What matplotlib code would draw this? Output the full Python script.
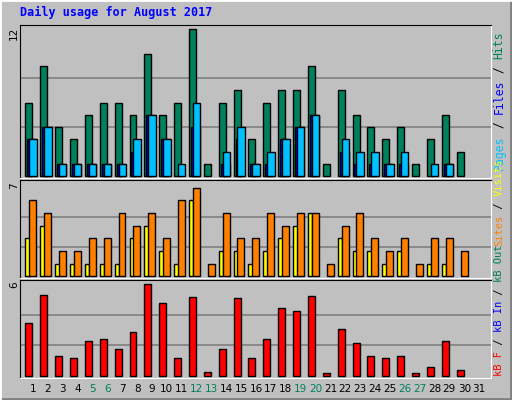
import matplotlib
matplotlib.use("Agg")
import matplotlib.pyplot as plt
import numpy as np

days = list(range(1, 32))
hits = [6, 9, 4, 3, 5, 6, 6, 5, 10, 5, 6, 12, 1, 6, 7, 3, 6, 7, 7, 9, 1, 7, 5, 4, 3, 4, 1, 3, 5, 2, 0]
files = [3, 4, 1, 1, 1, 1, 1, 2, 5, 3, 0, 4, 0, 1, 3, 1, 1, 3, 4, 5, 0, 2, 1, 1, 1, 1, 0, 0, 1, 0, 0]
pages = [3, 4, 1, 1, 1, 1, 1, 3, 5, 3, 1, 6, 0, 2, 4, 1, 2, 3, 4, 5, 0, 3, 2, 2, 1, 2, 0, 1, 1, 0, 0]
visits = [3, 4, 1, 1, 1, 1, 1, 3, 4, 2, 1, 6, 0, 2, 2, 1, 2, 3, 4, 5, 0, 3, 2, 2, 1, 2, 0, 1, 1, 0, 0]
sites = [6, 5, 2, 2, 3, 3, 5, 4, 5, 3, 6, 7, 1, 5, 3, 3, 5, 4, 5, 5, 1, 4, 5, 3, 2, 3, 1, 3, 3, 2, 0]
kbytes = [3.48, 5.3, 1.34, 1.16, 2.26, 2.45, 1.75, 2.85, 6.0, 4.75, 1.16, 5.14, 0.28, 1.75, 5.08,
          1.16, 2.39, 4.42, 4.22, 5.2, 0.22, 3.1, 2.19, 1.34, 1.16, 1.34, 0.22, 0.61, 2.26, 0.42, 0]
weekend = [5, 6, 12, 13, 19, 20, 26, 27]

W, H = 512, 400
fig = plt.figure(figsize=(W / 100, H / 100), dpi=100)
fig.patch.set_facecolor('#C0C0C0')
mono = 'DejaVu Sans Mono'

# 3d border
bg = fig.add_axes([0, 0, 1, 1])
bg.set_xlim(0, W); bg.set_ylim(H, 0); bg.axis('off')
bg.plot([1, W - 1, W - 1], [H - 1, H - 1, 1], color='#808080', lw=2)
bg.plot([0, 0, W], [H, 0, 0], color='white', lw=2)
bg.text(20, 12, 'Daily usage for August 2017', color='#0000FF', fontsize=8.5,
        fontweight='bold', family=mono, va='center')

x = np.array(days)
left_px, right_px = 20, 491
xlo = 1 - 13 / 14.87
xhi = 1 + (right_px - 33) / 14.87

def panel(top, bottom, ymax):
    ax = fig.add_axes([left_px / W, 1 - bottom / H, (right_px - left_px) / W, (bottom - top) / H])
    ax.set_facecolor('#C0C0C0')
    ax.set_xlim(xlo, xhi)
    ax.set_xticks([]); ax.set_yticks([])
    ax.spines['top'].set_color('black')
    ax.spines['left'].set_color('black')
    ax.spines['bottom'].set_color('white')
    ax.spines['right'].set_color('white')
    for f in (1 / 3, 2 / 3):
        ax.axhline(ymax * f, color='#808080', lw=1.2, zorder=0)
    return ax

def bars(ax, off, vals, w, col):
    v = np.array(vals, dtype=float)
    m = v > 0
    ax.bar(x[m] + off, v[m], width=w, align='edge', color=col, edgecolor='black', lw=1)

# hits/files/pages
ax1 = panel(25, 178, 12)
ax1.set_ylim(-0.16, 12.33)
bars(ax1, -0.51, hits, 0.47, '#00805C')
bars(ax1, -0.38, files, 0.6, '#0000FF')
bars(ax1, -0.25, pages, 0.5, '#00C0FF')

# visits/sites
ax2 = panel(180, 278, 7)
ax2.set_ylim(-1.7 / 13.14, 7 + 8 / 13.14)
bars(ax2, -0.51, visits, 0.3, '#FFFF00')
bars(ax2, -0.25, sites, 0.47, '#FF8000')

# kbytes
ax3 = panel(280, 378, 6)
ax3.set_ylim(-0.12, 6 + 4 / 15.2)
bars(ax3, -0.51, kbytes, 0.47, '#FF0000')

# day labels
for d in days:
    px = 33 + 14.87 * (d - 1)
    bg.text(px, 389, str(d), ha='center', va='center', fontsize=7.5,
            color='#00805C' if d in weekend else 'black', family='DejaVu Sans')

# left max labels
for y, lab in [(33, '12'), (186, '7'), (285, '6')]:
    bg.text(14, y, lab, rotation=90, ha='center', va='center', fontsize=7.5, family='DejaVu Sans')

def right_label(parts, ybot, fs):
    step = fs * 0.602 * 100 / 72
    y = ybot
    for txt, col in parts:
        bg.text(499, y, txt, rotation=90, ha='center', va='bottom', fontsize=fs,
                color=col, family=mono)
        y -= len(txt) * step

right_label([('Pages', '#00C0FF'), (' / ', 'black'), ('Files', '#0000FF'),
             (' / ', 'black'), ('Hits', '#00805C')], 170, 8.3)
right_label([('Sites', '#FF8000'), (' / ', 'black'), ('Visits', '#FFFF00')], 246, 7.5)
right_label([('kB F', '#FF0000'), (' / ', 'black'), ('kB In', '#0000FF'),
             (' / ', 'black'), ('kB Out', '#00805C')], 376, 7.5)

fig.savefig('out.png', dpi=100, facecolor=fig.get_facecolor())
